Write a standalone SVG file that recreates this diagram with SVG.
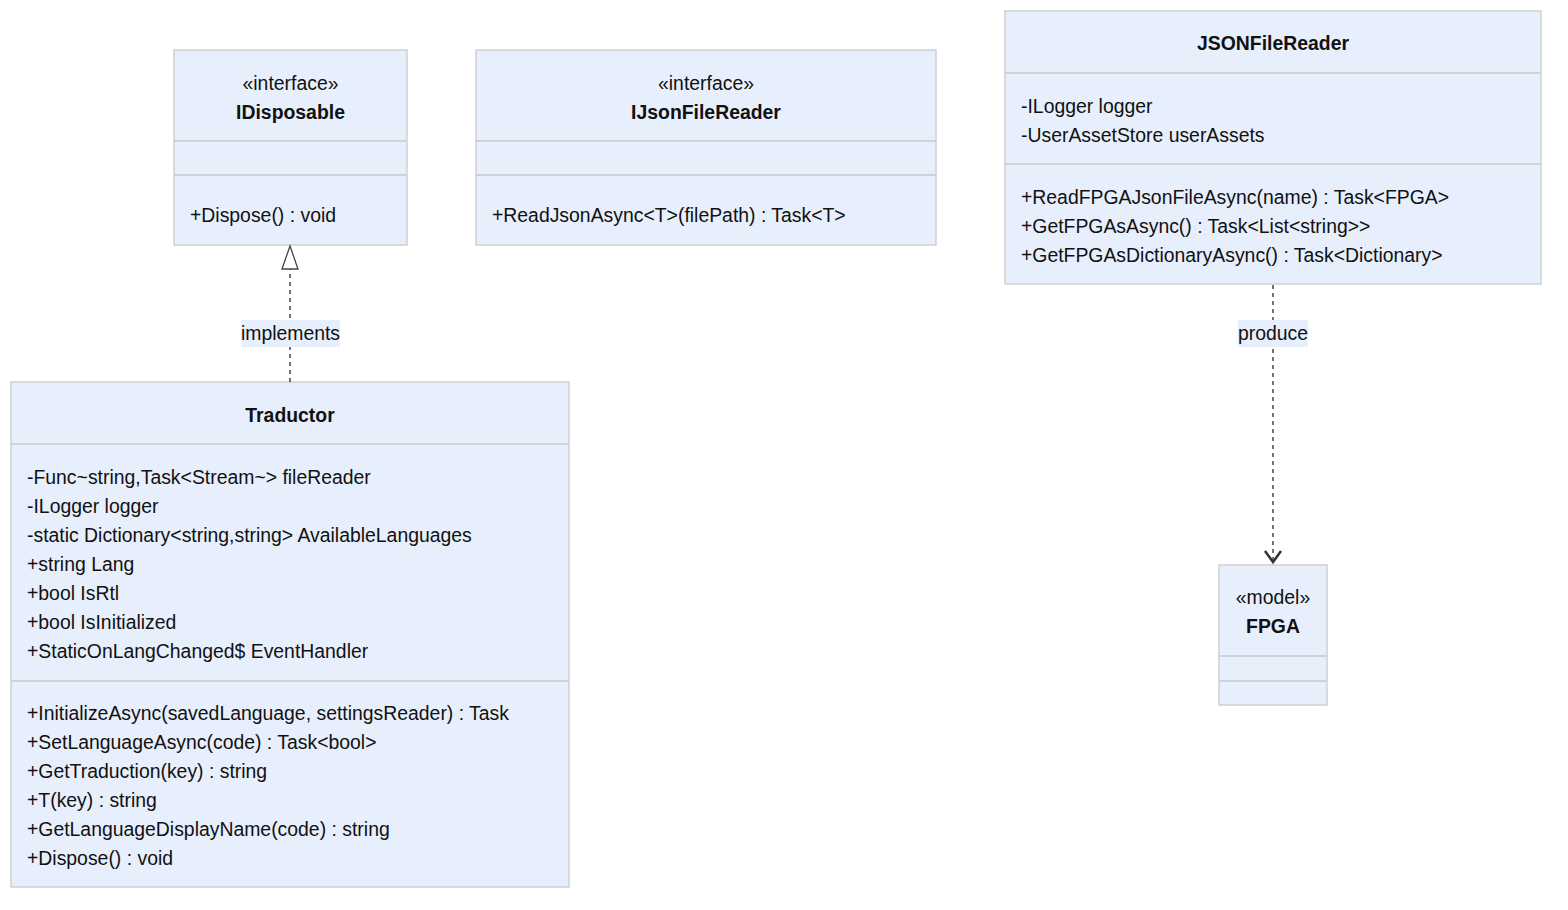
<svg xmlns="http://www.w3.org/2000/svg" width="1568" height="910" viewBox="0 0 1568 910">
<style>
.box{fill:#e8effc;stroke:#c9c9c9;stroke-width:1.3}
.div{stroke:#c9c9c9;stroke-width:1.3}
text{font-family:"Liberation Sans",Arial,sans-serif;font-size:19.4px;fill:#111}
.c{text-anchor:middle}
.b{font-weight:bold}
.edge{stroke:#444;stroke-width:1.5;stroke-dasharray:4,4;fill:none}
.lbl{fill:#e8effc}
</style>
<rect width="1568" height="910" fill="#ffffff"/>
<g id="IDisposable">
<rect class="box" x="174" y="50" width="233" height="195"/>
<line class="div" x1="174" y1="141" x2="407" y2="141"/>
<line class="div" x1="174" y1="175" x2="407" y2="175"/>
<text class="c" x="290.5" y="90">«interface»</text>
<text class="c b" x="290.5" y="119">IDisposable</text>
<text x="190" y="222">+Dispose() : void</text>
</g>
<g id="IJsonFileReader">
<rect class="box" x="476" y="50" width="460" height="195"/>
<line class="div" x1="476" y1="141" x2="936" y2="141"/>
<line class="div" x1="476" y1="175" x2="936" y2="175"/>
<text class="c" x="706" y="90">«interface»</text>
<text class="c b" x="706" y="119">IJsonFileReader</text>
<text x="492" y="222">+ReadJsonAsync&lt;T&gt;(filePath) : Task&lt;T&gt;</text>
</g>
<g id="JSONFileReader">
<rect class="box" x="1005" y="11" width="536" height="273"/>
<line class="div" x1="1005" y1="73" x2="1541" y2="73"/>
<line class="div" x1="1005" y1="164" x2="1541" y2="164"/>
<text class="c b" x="1273" y="50">JSONFileReader</text>
<text x="1021" y="113">-ILogger logger</text>
<text x="1021" y="142">-UserAssetStore userAssets</text>
<text x="1021" y="204">+ReadFPGAJsonFileAsync(name) : Task&lt;FPGA&gt;</text>
<text x="1021" y="233">+GetFPGAsAsync() : Task&lt;List&lt;string&gt;&gt;</text>
<text x="1021" y="262">+GetFPGAsDictionaryAsync() : Task&lt;Dictionary&gt;</text>
</g>
<g id="Traductor">
<rect class="box" x="11" y="382" width="558" height="505"/>
<line class="div" x1="11" y1="444" x2="569" y2="444"/>
<line class="div" x1="11" y1="681" x2="569" y2="681"/>
<text class="c b" x="290" y="422">Traductor</text>
<text x="27" y="484">-Func~string,Task&lt;Stream~&gt; fileReader</text>
<text x="27" y="513">-ILogger logger</text>
<text x="27" y="542">-static Dictionary&lt;string,string&gt; AvailableLanguages</text>
<text x="27" y="571">+string Lang</text>
<text x="27" y="600">+bool IsRtl</text>
<text x="27" y="629">+bool IsInitialized</text>
<text x="27" y="658">+StaticOnLangChanged$ EventHandler</text>
<text x="27" y="720">+InitializeAsync(savedLanguage, settingsReader) : Task</text>
<text x="27" y="749">+SetLanguageAsync(code) : Task&lt;bool&gt;</text>
<text x="27" y="778">+GetTraduction(key) : string</text>
<text x="27" y="807">+T(key) : string</text>
<text x="27" y="836">+GetLanguageDisplayName(code) : string</text>
<text x="27" y="865">+Dispose() : void</text>
</g>
<g id="FPGA">
<rect class="box" x="1219" y="565" width="108" height="140"/>
<line class="div" x1="1219" y1="656" x2="1327" y2="656"/>
<line class="div" x1="1219" y1="681" x2="1327" y2="681"/>
<text class="c" x="1273" y="604">«model»</text>
<text class="c b" x="1273" y="633">FPGA</text>
</g>
<g id="connectors">
<path class="edge" d="M290,382 L290,269"/>
<path d="M282,269 L290,246 L298,269 Z" fill="#ffffff" stroke="#444" stroke-width="1.3"/>
<rect class="lbl" x="241" y="320" width="99" height="27"/>
<text class="c" x="290.5" y="340">implements</text>
<path class="edge" d="M1273,285 L1273,562"/>
<path d="M1265,551 L1273,562 L1281,551" fill="none" stroke="#333" stroke-width="2.5"/>
<rect class="lbl" x="1238" y="320" width="70" height="27"/>
<text class="c" x="1273" y="340">produce</text>
</g>
</svg>
